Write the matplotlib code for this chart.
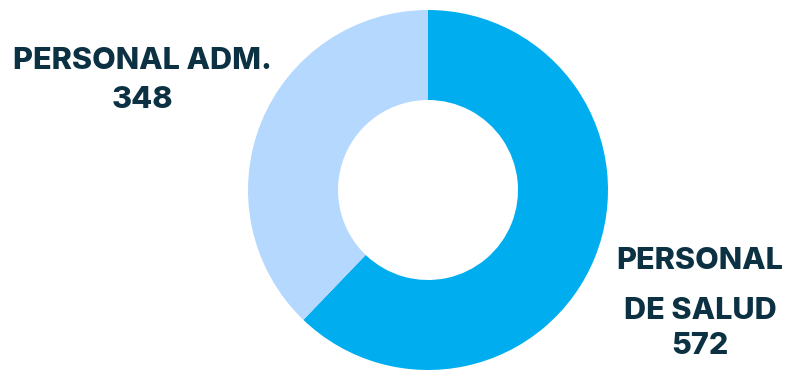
import matplotlib
matplotlib.use("Agg")
import matplotlib.pyplot as plt

categories = ["PERSONAL DE SALUD", "PERSONAL ADM."]
values = [572, 348]
colors = ["#00AEEF", "#B5D8FE"]

W, H = 788, 371
fig = plt.figure(figsize=(W / 100, H / 100), dpi=100)
cx, cy, r = 428, 190, 180
ax = fig.add_axes([(cx - r) / W, (H - cy - r) / H, 2 * r / W, 2 * r / H])
ax.pie(values, colors=colors, startangle=90, counterclock=False, radius=1,
       wedgeprops=dict(width=0.5, edgecolor="none"))
ax.set_xlim(-1, 1)
ax.set_ylim(-1, 1)
ax.set_aspect("equal")
ax.axis("off")

tc = "#0B3142"
fp = dict(family=["Inter", "DejaVu Sans"], fontweight="heavy", fontsize=22, color=tc,
          ha="center", va="center_baseline")

def T(x, y, s):
    fig.text(x / W, 1 - y / H, s, **fp)

T(142, 58, "PERSONAL ADM.")
T(142, 97, str(values[1]))
T(700, 258, "PERSONAL")
T(700, 308, "DE SALUD")
T(700, 343, str(values[0]))

fig.savefig("out.png", dpi=100, facecolor="white")
